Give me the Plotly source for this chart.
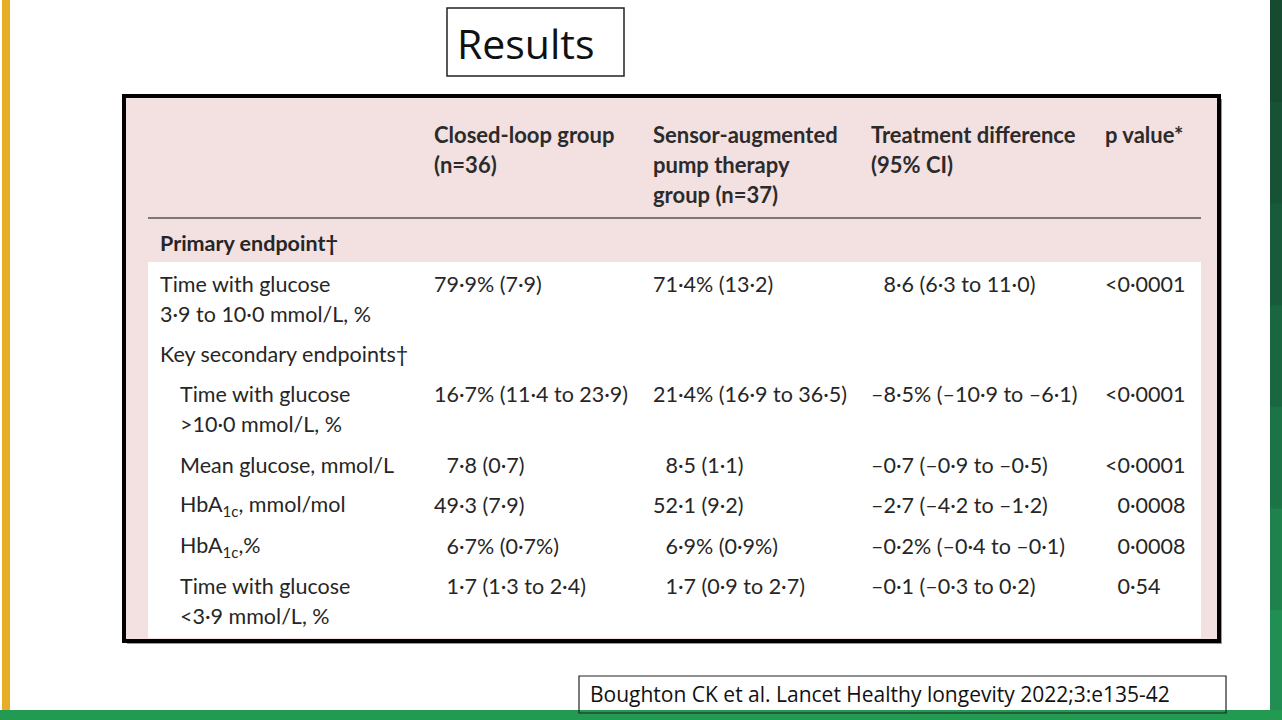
import plotly.graph_objects as go

# Table content (Lancet style middle-dot decimals, figure spaces for alignment)
FS = "\u2007"
header_cols = [
    "Closed-loop group<br>(n=36)",
    "Sensor-augmented<br>pump therapy<br>group (n=37)",
    "Treatment difference<br>(95% CI)",
    "p value*",
]
row_labels = [
    "Primary endpoint†",
    "Time with glucose<br>3·9 to 10·0 mmol/L, %",
    "Key secondary endpoints†",
    "Time with glucose<br>>10·0 mmol/L, %",
    "Mean glucose, mmol/L",
    "HbA<sub>1c</sub>, mmol/mol",
    "HbA<sub>1c</sub>,%",
    "Time with glucose<br><3·9 mmol/L, %",
]
label_indent = [0, 0, 0, 1, 1, 1, 1, 1]
closed_loop = ["", "79·9% (7·9)", "", "16·7% (11·4 to 23·9)", FS + "7·8 (0·7)",
               "49·3 (7·9)", FS + "6·7% (0·7%)", FS + "1·7 (1·3 to 2·4)"]
sensor_pump = ["", "71·4% (13·2)", "", "21·4% (16·9 to 36·5)", FS + "8·5 (1·1)",
               "52·1 (9·2)", FS + "6·9% (0·9%)", FS + "1·7 (0·9 to 2·7)"]
treatment_diff = ["", FS + "8·6 (6·3 to 11·0)", "", "–8·5% (–10·9 to –6·1)",
                  "–0·7 (–0·9 to –0·5)", "–2·7 (–4·2 to –1·2)",
                  "–0·2% (–0·4 to –0·1)", "–0·1 (–0·3 to 0·2)"]
p_values = ["", "<0·0001", "", "<0·0001", "<0·0001",
            FS + "0·0008", FS + "0·0008", FS + "0·54"]

title_text = "Results"
citation = "Boughton CK et al. Lancet Healthy longevity 2022;3:e135-42"

# layout helpers (pixel space)
W, H = 1282, 720
FONT = "Lato"
PINK = "#f3e0e1"
TXT = "#262626"
col_x = [432, 651, 869, 1103]
label_x = [158, 178]
header_y = 134
row_y = [243, 284, 354, 394, 465, 505, 546, 586]
line_gap = 30
BODY = 21.5
HEAD = 22

fig = go.Figure()
shapes = []
annotations = []


def rect(x0, y0, x1, y1, fill=None, line=None, width=0):
    shapes.append(dict(type="rect", xref="x", yref="y", x0=x0, y0=y0, x1=x1, y1=y1,
                       fillcolor=fill or "rgba(0,0,0,0)",
                       line=dict(color=line or "rgba(0,0,0,0)", width=width),
                       layer="below"))


def text(x, y, s, size=BODY, bold=False, color=TXT):
    lines = s.split("<br>")
    for i, ln in enumerate(lines):
        annotations.append(dict(x=x, y=y + i * line_gap, xref="x", yref="y", text=ln,
                                showarrow=False, xanchor="left", yanchor="middle",
                                font=dict(family=FONT, size=size, color=color,
                                          weight="bold" if bold else "normal")))


# slide decoration
rect(2, 0, 10, 712, fill="#e6ae27")
greens = ["#164a31", "#175236", "#185b3a", "#1a6640", "#1c7446", "#1f824d", "#218f53"]
seg = 712 / len(greens)
for i, g in enumerate(greens):
    rect(1270, i * seg, W, (i + 1) * seg + 1, fill=g)
rect(0, 710, W, H, fill="#229a51")

# title box
rect(447, 8, 624, 76, line="#222", width=1.5)
annotations.append(dict(x=455, y=43, xref="x", yref="y", text=title_text, showarrow=False,
                        xanchor="left", yanchor="middle",
                        font=dict(family="Open Sans", size=41, color="#111")))

# table frame
rect(127, 99, 1222, 644, fill="#9a9a9a")
rect(124, 96, 1219, 641, fill=PINK, line="#000", width=4)
rect(148, 262, 1201, 638, fill="#ffffff")
shapes.append(dict(type="line", xref="x", yref="y", x0=148, x1=1201, y0=218, y1=218,
                   line=dict(color="#555", width=1.5), layer="below"))

# header
for cx, h in zip(col_x, header_cols):
    text(cx, header_y, h, size=HEAD, bold=True, color="#2b2b2b")

# rows
text(label_x[0], row_y[0], row_labels[0], bold=True)
for i in range(1, len(row_labels)):
    text(label_x[label_indent[i]], row_y[i], row_labels[i])
    for cx, col in zip(col_x, [closed_loop, sensor_pump, treatment_diff, p_values]):
        if col[i]:
            text(cx, row_y[i], col[i])

# citation box
rect(579, 676, 1226, 713, line="#222", width=1.2)
annotations.append(dict(x=588, y=694, xref="x", yref="y", text=citation, showarrow=False,
                        xanchor="left", yanchor="middle",
                        font=dict(family="Open Sans", size=21, color="#111")))

fig.update_layout(
    width=W, height=H,
    margin=dict(l=0, r=0, t=0, b=0),
    paper_bgcolor="#ffffff", plot_bgcolor="#ffffff",
    xaxis=dict(range=[0, W], visible=False, fixedrange=True),
    yaxis=dict(range=[H, 0], visible=False, fixedrange=True),
    shapes=shapes, annotations=annotations, showlegend=False,
)

fig.write_html("out.html", config=dict(displayModeBar=False),
               post_script="document.body.style.margin='0';document.body.style.overflow='hidden';")
